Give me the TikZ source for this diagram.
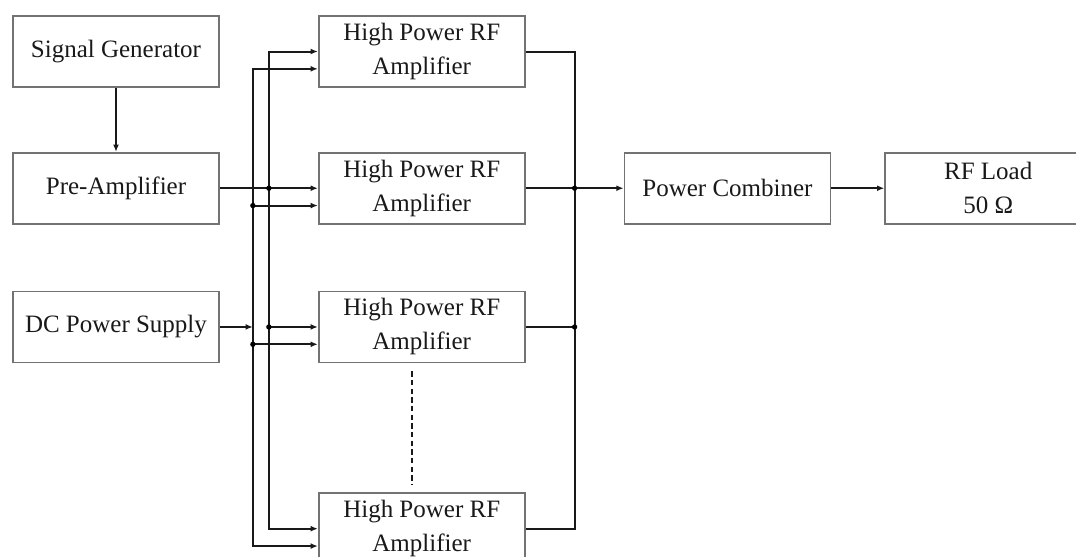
\documentclass[tikz,border=0pt]{standalone}
\usepackage{fontspec}
\setmainfont{Liberation Serif}
\usepackage{tikz}
\usetikzlibrary{arrows.meta,positioning}

\begin{document}
\begin{tikzpicture}[>={Latex[length=5.5pt,width=4.5pt]}, node distance=48pt and 73.5pt, line width=1.5pt, draw=black!90]
        \tikzstyle{blocknode}=[rectangle, draw=black!55, line width=1.3pt, minimum width=154.5pt, minimum height=53.25pt, inner sep=0pt, align=center, text=black!90, font=\fontsize{18.75}{25.5}\selectfont]
        \useasboundingbox (-87pt,38.625pt) rectangle (720pt,-379.125pt);
        \node[blocknode] (sg) {Signal Generator};
        \node[blocknode, below=of sg] (pa) {Pre-Amplifier};
        \node[blocknode, below=49.5pt of pa] (dc) {DC Power Supply};
        \node[blocknode, right=of sg] (a1) {High Power RF\\Amplifier};
        \node[blocknode, right=of pa] (a2) {High Power RF\\Amplifier};
        \node[blocknode, right=of dc] (a3) {High Power RF\\Amplifier};
        \node[blocknode, below=96.75pt of a3] (a4) {High Power RF\\Amplifier};
        \node[blocknode, right=of a2] (pc) {Power Combiner};
        \node[blocknode, right=39.75pt of pc] (rl) {RF Load\\50 Ω};
        \draw[->] (sg) -- (pa);
        \draw[->] (pa) -- (a2);
        \draw[->] (dc) -- ([xshift=-48.75pt]a3.west);
        % signal feed
        \draw[<->] (a1.west) -- ++(-36.75pt,0) |- (a4.west);
        \draw[->] ([xshift=-36.75pt]a3.west) -- (a3.west);
        % dc feed
        \draw[<->] ([yshift=-13pt]a1.west) -| ([xshift=-48.75pt,yshift=-13pt]a4.west) -- ([yshift=-13pt]a4.west);
        \foreach \x in {a2,a3} {
            \draw[->] ([xshift=-48.75pt,yshift=-13pt]\x.west) -- ([yshift=-13pt]\x.west);
        }
        % outputs
        \draw (a1.east) -- ++(36.75pt,0) |- (a4.east);
        \draw (a3.east) -- ++(36.75pt,0);
        \draw[->] (a2) -- (pc);
        \draw[->] (pc) -- (rl);
        \foreach \x in {a2,a3} {
            \fill ([xshift=-36.75pt]\x.west) circle (2pt);
            \fill ([xshift=-48.75pt,yshift=-13pt]\x.west) circle (2pt);
            \fill ([xshift=36.75pt]\x.east) circle (2pt);
        }
        \draw[dashed, dash pattern=on 4pt off 2.5pt] ([xshift=-7.5pt,yshift=-6pt]a3.south) -- ([xshift=-7.5pt,yshift=6pt]a4.north);
    \end{tikzpicture}
\end{document}
